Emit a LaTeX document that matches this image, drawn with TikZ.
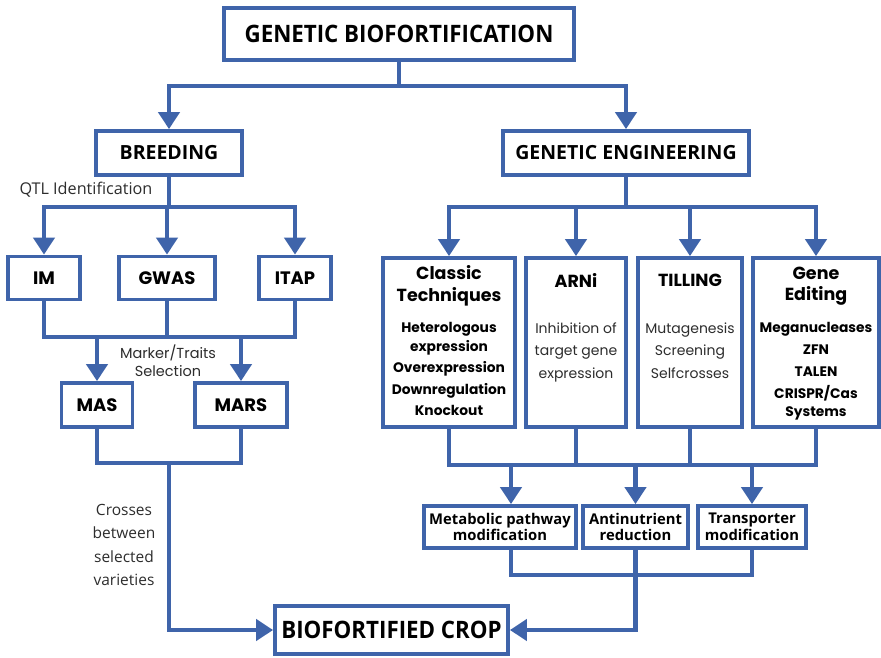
\documentclass[tikz,border=0pt]{standalone}
\usepackage{fontspec}
\setmainfont{Poppins}
\newfontfamily\cond[FakeStretch=0.93]{Open Sans}
\newfontfamily\osans{Open Sans}
\newfontfamily\pop{Poppins}
\usetikzlibrary{arrows.meta,calc}
\definecolor{bl}{RGB}{63,100,170}
\definecolor{tx}{RGB}{45,45,45}
\begin{document}
\begin{tikzpicture}[x=1pt,y=-1pt,
  box/.style={draw=bl,line width=3.8pt,fill=white,inner sep=0pt,align=center},
  conn/.style={draw=bl,line width=4.2pt},
  arr/.style={conn,-{Triangle[width=21pt,length=17pt]}},
  bigt/.style={font=\cond\bfseries\fontsize{24}{28}\selectfont},
  midt/.style={font=\osans\bfseries\fontsize{19.5}{22}\selectfont},
  popt/.style={font=\pop\bfseries\fontsize{18}{20}\selectfont},
  hdt/.style={font=\pop\bfseries\fontsize{17.5}{21.5}\selectfont,align=center},
  boldl/.style={font=\pop\bfseries\fontsize{13.8}{21.5}\selectfont,align=center,anchor=north},
  regl/.style={font=\pop\fontsize{14}{22.5}\selectfont,text=tx,align=center,anchor=north},
  smb/.style={font=\osans\bfseries\fontsize{14.8}{16.5}\selectfont},
  lab/.style={text=tx,align=center}]
\useasboundingbox (0,0) rectangle (881,657);
\fill[white] (0,0) rectangle (881,657);
% nodes
\node[box,bigt,minimum width=350pt,minimum height=52pt] (top) at (399,34) {GENETIC BIOFORTIFICATION};
\node[box,midt,minimum width=146pt,minimum height=44pt] (breed) at (169,153) {BREEDING};
\node[box,midt,minimum width=246pt,minimum height=44pt] (geneng) at (626,153) {GENETIC ENGINEERING};
\node[box,popt,minimum width=72pt,minimum height=43pt] (im) at (44,278) {IM};
\node[box,popt,minimum width=96pt,minimum height=43pt] (gwas) at (167,278) {GWAS};
\node[box,popt,minimum width=72pt,minimum height=43pt] (itap) at (295,278) {ITAP};
\node[box,popt,minimum width=71pt,minimum height=44pt] (mas) at (97,405) {MAS};
\node[box,popt,minimum width=92pt,minimum height=44pt] (mars) at (241,405) {MARS};
% right boxes
\node[box,minimum width=132pt,minimum height=169pt] (classic) at (449,342.5) {};
\node[box,minimum width=100pt,minimum height=169pt] (arni) at (576,342.5) {};
\node[box,minimum width=104pt,minimum height=169pt] (tilling) at (690,342.5) {};
\node[box,minimum width=126pt,minimum height=169pt] (gedit) at (816,342.5) {};
\node[hdt] (classicT) at (449,286) {Classic\\Techniques};
\node[hdt] (arniT) at (576,280) {ARNi};
\node[hdt] (tillT) at (690,280) {TILLING};
\node[hdt] (geditT) at (816,286) {Gene\\Editing};
\node[boldl] (classicL) at (449,319) {Heterologous\\[-3pt]expression\\Overexpression\\Downregulation\\Knockout};
\node[boldl,font=\pop\bfseries\fontsize{13.8}{22}\selectfont] (geditL) at (816,319) {Meganucleases\\ZFN\\TALEN\\CRISPR/Cas\\[-4pt]Systems};
\node[regl] (arniL) at (576,319) {Inhibition of\\target gene\\expression};
\node[regl] (tillL) at (690,319) {Mutagenesis\\Screening\\Selfcrosses};
% bottom right boxes
\node[box,smb,minimum width=152pt,minimum height=42pt] (metab) at (500,527) {Metabolic pathway\\modification};
\node[box,smb,minimum width=105pt,minimum height=42pt] (antin) at (635.5,527) {Antinutrient\\reduction};
\node[box,smb,minimum width=108pt,minimum height=42pt] (transp) at (752,527) {Transporter\\modification};
\node[box,bigt,minimum width=233pt,minimum height=48pt] (crop) at (391.5,630) {BIOFORTIFIED CROP};
% labels
\node[lab,font=\osans\fontsize{16.2}{18}\selectfont,anchor=west] (qtl) at (16,190) {QTL Identification};
\node[lab,font=\pop\fontsize{14.5}{18}\selectfont] (mts) at (168,361) {Marker/Traits\\Selection};
\node[lab,font=\osans\fontsize{15.5}{23.5}\selectfont] (crs) at (124,545) {Crosses\\between\\selected\\varieties};
% junctions
\coordinate (j1) at (399,86);
\coordinate (j2) at (169,207);
\coordinate (j3) at (0,337);
\coordinate (j5) at (169,463);
\coordinate (j6) at (626,207);
\coordinate (j7) at (0,465);
\coordinate (j8) at (635.5,575);
\coordinate (mt) at ($(metab.north)+(11,0)$);
\coordinate (mb) at ($(metab.south)+(11,0)$);
% connectors
\draw[conn] (top.south) -- (j1);
\draw[arr] (j1) -| (breed.north);
\draw[arr] (j1) -| (geneng.north);
\draw[conn] (breed.south) -- (j2);
\draw[arr] (j2) -| (im.north);
\draw[arr] (j2) -| (itap.north);
\draw[arr] (j2) -| (gwas.north);
\draw[conn] (im.south) -- (im.south|-j3) -- (itap.south|-j3) -- (itap.south);
\draw[conn] (gwas.south) -- (gwas.south|-j3);
\draw[arr] (mas.north|-j3) -- (mas.north);
\draw[arr] (mars.north|-j3) -- (mars.north);
\draw[conn] (mas.south) -- (mas.south|-j5) -- (mars.south|-j5) -- (mars.south);
\draw[arr] (j5) |- (crop.west);
\draw[conn] (geneng.south) -- (j6);
\draw[arr] (j6) -| (classic.north);
\draw[arr] (j6) -| (gedit.north);
\draw[arr] (arni.north|-j6) -- (arni.north);
\draw[arr] (tilling.north|-j6) -- (tilling.north);
\draw[conn] (classic.south) -- (classic.south|-j7) -- (gedit.south|-j7) -- (gedit.south);
\draw[conn] (arni.south) -- (arni.south|-j7);
\draw[conn] (tilling.south) -- (tilling.south|-j7);
\draw[arr] (mt|-j7) -- (mt);
\draw[arr] (antin.north|-j7) -- (antin.north);
\draw[arr] (transp.north|-j7) -- (transp.north);
\draw[conn] (mb) -- (mb|-j8) -- (transp.south|-j8) -- (transp.south);
\draw[conn] (antin.south) -- (j8);
\draw[arr] (j8) |- (crop.east);
\end{tikzpicture}
\end{document}
